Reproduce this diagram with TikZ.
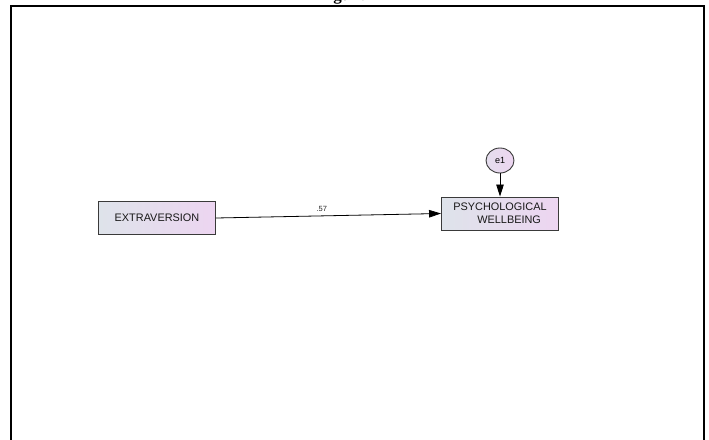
\documentclass[tikz,border=0pt]{standalone}
\usepackage{fontspec}
\setmainfont{Liberation Serif}
\newfontfamily\labelfont{Liberation Sans}
\usetikzlibrary{arrows.meta,shapes.geometric}
\definecolor{boxleft}{HTML}{DEE3EA}
\definecolor{boxright}{HTML}{EDD5F1}
\definecolor{edge}{HTML}{3A3A3A}
\tikzset{
  varbox/.style={draw=edge, line width=0.9pt, left color=boxleft, right color=boxright,
    minimum width=117pt, minimum height=33pt, inner sep=0pt,
    font=\labelfont\fontsize{10.9}{13}\selectfont, text=black!90, align=left},
  errnode/.style={ellipse, draw=edge, line width=0.9pt, left color=boxleft!60!boxright, right color=boxright,
    minimum width=28pt, minimum height=25pt, inner sep=0pt, font=\labelfont\fontsize{9}{10}\selectfont},
  path/.style={draw=black, line width=0.8pt, -{Triangle[length=12pt,width=7.5pt]}},
  coef/.style={font=\labelfont\fontsize{7.5}{8}\selectfont, text=black!85},
}
\begin{document}
\begin{tikzpicture}[x=1pt,y=-1pt]
  \useasboundingbox (0,0) rectangle (709,439);
  % page frame, open at the bottom
  \draw[line width=1.4pt] (11,445) -- (11,6) -- (704,6) -- (704,445);
  % heading above the frame, mostly beyond the top edge
  \node[anchor=base west, inner sep=0pt, font=\bfseries\fontsize{17}{20}\selectfont] (title) at (318,0.3) {Figure};
  % variables
  \node[varbox] (ext) at (157,218) {EXTRAVERSION};
  \node[varbox] (pwb) at (500,213.5) {PSYCHOLOGICAL\\\hspace*{2.2em}WELLBEING};
  \node[errnode] (e1) at (500,160.5) {e1};
  % paths
  \draw[path] (e1) -- (pwb);
  \draw[path] (ext.east) -- (pwb.west) node[coef, pos=0.47, above, yshift=1pt] (c1) {.57};
\end{tikzpicture}
\end{document}
